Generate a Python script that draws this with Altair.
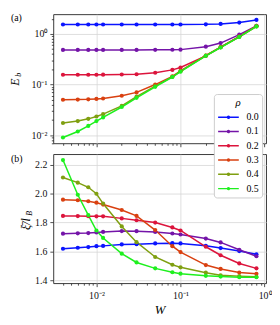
import altair as alt
import pandas as pd

# ---------------- data ----------------
W = [0.004, 0.006, 0.008, 0.01, 0.012, 0.02, 0.03, 0.05, 0.08, 0.1, 0.2, 0.3, 0.5, 0.8]
rho_labels = ["0.0", "0.1", "0.2", "0.3", "0.4", "0.5"]
colors = ["#0a14ff", "#7414a8", "#dc143c", "#d94010", "#7f9f10", "#1ef01e"]

Eb_00 = [1.54, 1.54, 1.54, 1.54, 1.54, 1.54, 1.54, 1.54, 1.54, 1.54, 1.55, 1.58, 1.68, 1.89]
Eb_01 = [0.483, 0.483, 0.483, 0.483, 0.483, 0.483, 0.484, 0.485, 0.487, 0.49, 0.56, 0.66, 0.97, 1.45]
Eb_02 = [0.156, 0.156, 0.156, 0.156, 0.157, 0.158, 0.16, 0.171, 0.195, 0.217, 0.37, 0.55, 0.9, 1.45]
Eb_03 = [0.050, 0.0505, 0.051, 0.052, 0.053, 0.060, 0.070, 0.100, 0.145, 0.187, 0.375, 0.55, 0.88, 1.42]
Eb_04 = [0.0174, 0.019, 0.021, 0.0234, 0.026, 0.038, 0.058, 0.093, 0.142, 0.183, 0.372, 0.545, 0.877, 1.41]
Eb_05 = [0.009, 0.0118, 0.0152, 0.019, 0.0224, 0.036, 0.0546, 0.09, 0.141, 0.18, 0.37, 0.54, 0.875, 1.41]

Xi_00 = [1.618, 1.625, 1.63, 1.636, 1.638, 1.648, 1.65, 1.655, 1.657, 1.655, 1.639, 1.623, 1.602, 1.58]
Xi_01 = [1.723, 1.725, 1.727, 1.731, 1.735, 1.741, 1.740, 1.735, 1.724, 1.717, 1.689, 1.662, 1.611, 1.566]
Xi_02 = [1.846, 1.845, 1.844, 1.843, 1.843, 1.829, 1.816, 1.800, 1.766, 1.745, 1.632, 1.573, 1.516, 1.482]
Xi_03 = [1.959, 1.955, 1.948, 1.938, 1.925, 1.887, 1.846, 1.748, 1.636, 1.595, 1.505, 1.478, 1.453, 1.444]
Xi_04 = [2.113, 2.077, 2.045, 2.0, 1.932, 1.773, 1.664, 1.561, 1.507, 1.489, 1.452, 1.434, 1.428, 1.423]
Xi_05 = [2.234, 1.993, 1.852, 1.745, 1.693, 1.584, 1.523, 1.482, 1.455, 1.445, 1.43, 1.425, 1.42, 1.42]

major_x = [0.01, 0.1, 1.0]
minor_x = [0.004, 0.005, 0.006, 0.007, 0.008, 0.009,
           0.02, 0.03, 0.04, 0.05, 0.06, 0.07, 0.08, 0.09,
           0.2, 0.3, 0.4, 0.5, 0.6, 0.7, 0.8, 0.9]
major_y_top = [0.01, 0.1, 1.0]
minor_y_top = [0.007, 0.008, 0.009,
               0.02, 0.03, 0.04, 0.05, 0.06, 0.07, 0.08, 0.09,
               0.2, 0.3, 0.4, 0.5, 0.6, 0.7, 0.8, 0.9, 2.0]
ticks_y_bottom = [1.4, 1.6, 1.8, 2.0, 2.2]
panel_labels = ["(a)", "(b)"]
top_title = ["E", "b"]
bottom_title = ["ξ̄/l", "B"]
x_title = "W"
legend_title = "ρ"

Eb_all = [Eb_00, Eb_01, Eb_02, Eb_03, Eb_04, Eb_05]
Xi_all = [Xi_00, Xi_01, Xi_02, Xi_03, Xi_04, Xi_05]

rows = []
for r, eb, xi in zip(rho_labels, Eb_all, Xi_all):
    for w, e, x in zip(W, eb, xi):
        rows.append({"W": w, "rho": r, "Eb": e, "Xi": x})
df = pd.DataFrame(rows)

# ---------------- styling ----------------
FONT = "Liberation Serif"
PW, PH = 216, 131
xscale = alt.Scale(type="log", domain=[0.00307, 1.042], nice=False)
yscale_top = alt.Scale(type="log", domain=[0.0069, 2.45], nice=False)
yscale_bot = alt.Scale(domain=[1.379, 2.275], nice=False, zero=False)
sup_expr = "datum.value > 0.5 ? '10⁰' : (datum.value > 0.05 ? '10⁻¹' : '10⁻²')"

def major_axis(orient, values, labels=True, label_expr=None, fmt=None, title=None):
    kw = dict(orient=orient, values=values, labels=labels, grid=True, tickSize=3.5,
              domain=False, labelPadding=3, title=title)
    if label_expr:
        kw["labelExpr"] = label_expr
    if fmt:
        kw["format"] = fmt
    return alt.Axis(**kw)

def minor_axis(orient, values):
    return alt.Axis(orient=orient, values=values, labels=False, grid=False, tickSize=2,
                    domain=False, title=None)

color_scale = alt.Scale(domain=rho_labels, range=colors)
sym_path = ("M-1.04,0H3.16"
            "M0.86,0A0.2,0.2,0,1,1,1.26,0A0.2,0.2,0,1,1,0.86,0"
            "M0.96,0A0.1,0.1,0,1,1,1.16,0A0.1,0.1,0,1,1,0.96,0")
legend = alt.Legend(title=legend_title, orient="none", legendX=163, legendY=81,
                    fillColor="white", strokeColor="#cccccc", cornerRadius=3, padding=3.5,
                    titleFont=FONT, titleFontStyle="italic", titleFontWeight="normal",
                    titleFontSize=11, titleAnchor="middle", titlePadding=3,
                    labelFont=FONT, labelFontSize=10, labelOffset=17.5,
                    symbolType=sym_path, symbolSize=100, symbolStrokeWidth=1.5,
                    rowPadding=3.5)

# ---------------- top panel ----------------
lines_top = alt.Chart(df).mark_line(
    strokeWidth=1.5, point=alt.OverlayMarkDef(filled=True, size=18)
).encode(
    x=alt.X("W:Q", scale=xscale, axis=major_axis("bottom", major_x, labels=False)),
    y=alt.Y("Eb:Q", scale=yscale_top, axis=major_axis("left", major_y_top, label_expr=sup_expr)),
    color=alt.Color("rho:N", scale=color_scale, legend=legend),
)
minor_top = alt.Chart(df).mark_point(opacity=0).encode(
    x=alt.X("W:Q", scale=xscale, axis=minor_axis("bottom", minor_x)),
    y=alt.Y("Eb:Q", scale=yscale_top, axis=minor_axis("left", minor_y_top)),
)
lab_a = alt.Chart(pd.DataFrame({"t": [panel_labels[0]]})).mark_text(
    align="left", baseline="middle", font=FONT, fontSize=10
).encode(text="t:N", x=alt.value(-43), y=alt.value(3.5))
tE = alt.Chart(pd.DataFrame({"t": [top_title[0]]})).mark_text(
    align="center", baseline="alphabetic", angle=270, font=FONT, fontSize=12, fontStyle="italic"
).encode(text="t:N", x=alt.value(-35), y=alt.value(69))
tb = alt.Chart(pd.DataFrame({"t": [top_title[1]]})).mark_text(
    align="center", baseline="alphabetic", angle=270, font=FONT, fontSize=8, fontStyle="italic"
).encode(text="t:N", x=alt.value(-33), y=alt.value(61.5))

top = alt.layer(lines_top, minor_top, lab_a, tE, tb).resolve_axis(
    x="independent", y="independent").properties(width=PW, height=PH)

# ---------------- bottom panel ----------------
lines_bot = alt.Chart(df).mark_line(
    strokeWidth=1.5, point=alt.OverlayMarkDef(filled=True, size=18)
).encode(
    x=alt.X("W:Q", scale=xscale,
            axis=alt.Axis(orient="bottom", values=major_x, grid=True, tickSize=3.5, domain=False,
                          labelPadding=4, labelExpr=sup_expr, title=x_title,
                          titleFont=FONT, titleFontStyle="italic", titleFontWeight="normal",
                          titleFontSize=13, titlePadding=3)),
    y=alt.Y("Xi:Q", scale=yscale_bot, axis=major_axis("left", ticks_y_bottom, fmt=".1f")),
    color=alt.Color("rho:N", scale=color_scale, legend=None),
)
minor_bot = alt.Chart(df).mark_point(opacity=0).encode(
    x=alt.X("W:Q", scale=xscale, axis=minor_axis("bottom", minor_x)),
    y=alt.Y("Xi:Q", scale=yscale_bot, axis=None),
)
lab_b = alt.Chart(pd.DataFrame({"t": [panel_labels[1]]})).mark_text(
    align="left", baseline="middle", font=FONT, fontSize=10
).encode(text="t:N", x=alt.value(-43), y=alt.value(4.5))
tX = alt.Chart(pd.DataFrame({"t": [bottom_title[0]]})).mark_text(
    align="center", baseline="alphabetic", angle=270, font=FONT, fontSize=12, fontStyle="italic"
).encode(text="t:N", x=alt.value(-24), y=alt.value(71))
tB = alt.Chart(pd.DataFrame({"t": [bottom_title[1]]})).mark_text(
    align="center", baseline="alphabetic", angle=270, font=FONT, fontSize=8, fontStyle="italic"
).encode(text="t:N", x=alt.value(-22), y=alt.value(60))

bottom = alt.layer(lines_bot, minor_bot, lab_b, tX, tB).resolve_axis(
    x="independent", y="independent").properties(width=PW, height=PH)

chart = alt.vconcat(top, bottom, spacing=5).properties(
    padding={"left": 0, "top": 2, "right": 0, "bottom": 0}
).configure_view(
    stroke="#222222", strokeWidth=0.9
).configure_axis(
    labelFont=FONT, labelFontSize=10, labelColor="#111111",
    tickColor="#222222", tickWidth=0.8,
    gridColor="#d6d6d6", gridWidth=0.8,
)

chart.save("out.html", embed_options={"renderer": "svg", "actions": False})
